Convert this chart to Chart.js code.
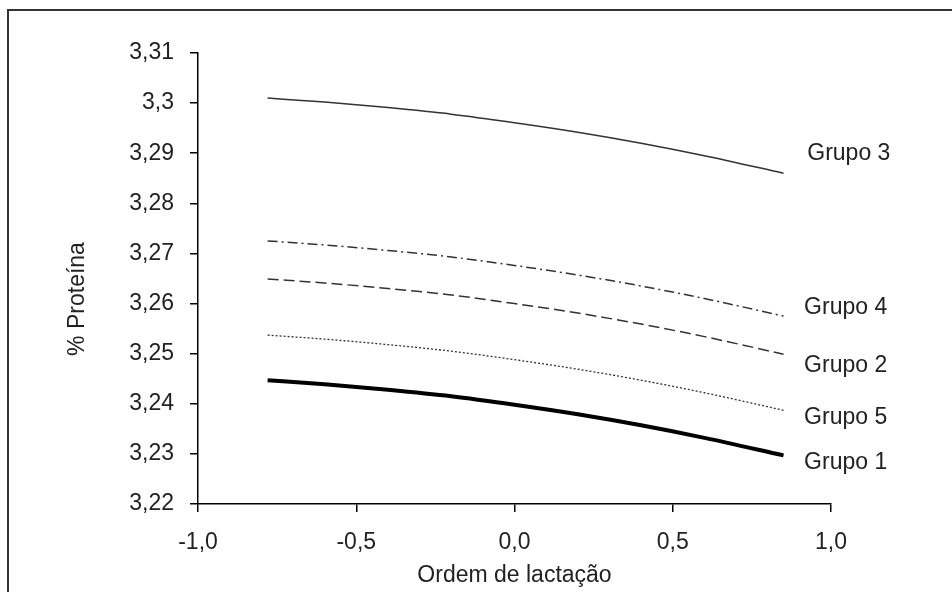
<!DOCTYPE html>
<html>
<head>
<meta charset="utf-8">
<script src="https://cdn.jsdelivr.net/npm/chart.js@4.4.0/dist/chart.umd.min.js"></script>
<style>
    html, body { margin: 0; padding: 0; background: #fff; }
    #chart { display: block; }
</style>
</head>
<body>
<canvas id="chart" width="952" height="592"></canvas>
<script>
const ordem = [-0.78, -0.6, -0.4, -0.2, 0, 0.2, 0.4, 0.6, 0.85]

const grupo3 = [3.3010, 3.3002, 3.2991, 3.2978, 3.2961, 3.2942, 3.2920, 3.2895, 3.2860]
const grupo4 = [3.2725, 3.2717, 3.2706, 3.2693, 3.2676, 3.2657, 3.2635, 3.2610, 3.2575]
const grupo2 = [3.2649, 3.2641, 3.2630, 3.2617, 3.2600, 3.2581, 3.2559, 3.2534, 3.2499]
const grupo5 = [3.2537, 3.2529, 3.2518, 3.2505, 3.2488, 3.2469, 3.2447, 3.2422, 3.2387]
const grupo1 = [3.2447, 3.2439, 3.2428, 3.2415, 3.2398, 3.2379, 3.2357, 3.2332, 3.2297]

const FONT = 'Liberation Sans, Arial, sans-serif'
const INK = '#222'

const toPoints = values => values.map((v, i) => ({ x: ordem[i], y: v }))

// outer frame of the original figure (only top and left edges are visible)
const framePlugin = {
    id: 'frame',
    beforeDraw(chart) {
        const ctx = chart.ctx
        ctx.save()
        ctx.strokeStyle = '#333'
        ctx.lineWidth = 2
        ctx.beginPath()
        ctx.moveTo(8, 600)
        ctx.lineTo(8, 10)
        ctx.lineTo(960, 10)
        ctx.stroke()
        ctx.restore()
    }
}

// y title (offset below centre, like the original) and the group labels at line ends
const textPlugin = {
    id: 'texts',
    afterDraw(chart) {
        const ctx = chart.ctx
        const xs = chart.scales.x
        const ys = chart.scales.y
        ctx.save()
        ctx.fillStyle = INK
        ctx.font = `23px ${FONT}`

        ctx.save()
        ctx.translate(78, 299)
        ctx.rotate(-Math.PI / 2)
        ctx.textAlign = 'center'
        ctx.textBaseline = 'middle'
        ctx.fillText('% Proteína', 0, 0)
        ctx.restore()

        const tags = [
            ['Grupo 3', 0.925, 3.2900],
            ['Grupo 4', 0.915, 3.2591],
            ['Grupo 2', 0.915, 3.2477],
            ['Grupo 5', 0.915, 3.2373],
            ['Grupo 1', 0.915, 3.2282]
        ]
        ctx.textAlign = 'left'
        ctx.textBaseline = 'middle'
        tags.forEach(([txt, x, y]) => {
            ctx.fillText(txt, xs.getPixelForValue(x), ys.getPixelForValue(y))
        })
        ctx.restore()
    }
}

new Chart(document.getElementById('chart'), {
    type: 'line',
    data: {
        datasets: [
            { label: 'Grupo 3', data: toPoints(grupo3), borderColor: '#333', borderWidth: 1.5 },
            { label: 'Grupo 4', data: toPoints(grupo4), borderColor: '#333', borderWidth: 1.5, borderDash: [10, 4, 2, 4] },
            { label: 'Grupo 2', data: toPoints(grupo2), borderColor: '#333', borderWidth: 1.5, borderDash: [11, 5] },
            { label: 'Grupo 5', data: toPoints(grupo5), borderColor: '#333', borderWidth: 1.3, borderDash: [2, 2] },
            { label: 'Grupo 1', data: toPoints(grupo1), borderColor: '#000', borderWidth: 4 }
        ]
    },
    options: {
        responsive: false,
        animation: false,
        devicePixelRatio: 1,
        layout: { padding: { left: 0, top: 53, right: 121, bottom: 0 } },
        elements: {
            point: { radius: 0 },
            line: { cubicInterpolationMode: 'monotone', fill: false }
        },
        plugins: {
            legend: { display: false },
            tooltip: { enabled: false }
        },
        scales: {
            x: {
                type: 'linear',
                min: -1,
                max: 1,
                afterFit: s => { s.height = 88 },
                border: { display: true, color: '#000', width: 1.5 },
                grid: { drawOnChartArea: false, drawTicks: true, tickLength: 8, color: '#000', lineWidth: 1.5 },
                ticks: {
                    stepSize: 0.5,
                    autoSkip: false,
                    maxRotation: 0,
                    padding: 17,
                    color: INK,
                    font: { family: FONT, size: 23 },
                    callback: v => v.toFixed(1).replace('.', ',')
                },
                title: {
                    display: true,
                    text: 'Ordem de lactação',
                    color: INK,
                    font: { family: FONT, size: 23 },
                    padding: { top: 0, bottom: 3 }
                }
            },
            y: {
                min: 3.22,
                max: 3.31,
                afterFit: s => { s.width = 198 },
                border: { display: true, color: '#000', width: 1.5 },
                grid: { drawOnChartArea: false, drawTicks: true, tickLength: 8, color: '#000', lineWidth: 1.5 },
                ticks: {
                    stepSize: 0.01,
                    autoSkip: false,
                    padding: 16,
                    color: INK,
                    font: { family: FONT, size: 23 },
                    callback: v => (Math.round(v * 100) / 100).toString().replace('.', ',')
                }
            }
        }
    },
    plugins: [framePlugin, textPlugin]
})
</script>
</body>
</html>
